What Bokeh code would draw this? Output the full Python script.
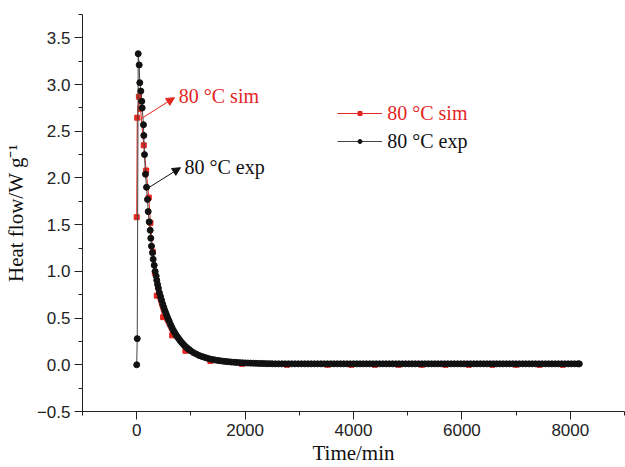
from bokeh.plotting import figure
from bokeh.models import (Range1d, SingleIntervalTicker, CustomJSTickFormatter,
                          Arrow, NormalHead, Legend, LegendItem, Label)
from bokeh.embed import file_html
from bokeh.resources import INLINE

RED = "#e3261f"
BLACK = "#111111"

# ---- simulated (red squares) ----
sim_time = [0, 10, 40, 70, 130, 175, 223, 254, 297, 334, 370, 488, 654, 899,
            1360, 1944, 2774, 3522, 3959, 4396, 4832, 5262, 5697, 6128, 6564,
            7000, 7429, 7860]
sim_flow = [1.58, 2.645, 2.87, 2.74, 2.35, 2.08, 1.79, 1.52, 1.21, 0.985, 0.74,
            0.51, 0.315, 0.15, 0.04, 0.01, 0.0, 0.0, 0.0, 0.0, 0.0, 0.0, 0.0,
            0.0, 0.0, 0.0, 0.0, 0.0]

# ---- experimental (black circles) ----
exp_time_head = [0, 10, 28, 46, 57, 76, 94, 101, 125, 131, 144, 162, 181, 199,
                 212, 230, 249, 260, 273, 291, 304, 323, 341, 359, 370, 385, 400,
                 420, 440, 460, 480, 500, 520, 540, 560, 580, 600,
                 625, 650, 675, 700, 725, 750, 775, 800, 825, 850, 875, 900,
                 925, 950, 975, 1000,
                 1050, 1100, 1150, 1200, 1250, 1300, 1350, 1400, 1450, 1500,
                 1550, 1600, 1650, 1700, 1750, 1800, 1850, 1900, 1950, 2000,
                 2050, 2100, 2150, 2200, 2250, 2300, 2350, 2400, 2450, 2500]
exp_flow_head = [0.0, 0.28, 3.33, 3.21, 3.02, 2.93, 2.82, 2.75, 2.57, 2.455,
                 2.25, 2.04, 1.90, 1.77, 1.64, 1.53, 1.44, 1.355, 1.27, 1.20,
                 1.13, 1.065, 1.00, 0.95, 0.905, 0.86, 0.82,
                 0.77, 0.73, 0.69, 0.65, 0.615, 0.58, 0.55, 0.52, 0.49, 0.465,
                 0.43, 0.40, 0.37, 0.345, 0.32, 0.30, 0.28, 0.26, 0.242, 0.225,
                 0.21, 0.195, 0.182, 0.17, 0.159, 0.148,
                 0.13, 0.115, 0.10, 0.09, 0.08, 0.071, 0.063, 0.057, 0.051, 0.046,
                 0.042, 0.038, 0.035, 0.032, 0.029, 0.027, 0.025, 0.023, 0.021, 0.02,
                 0.019, 0.018, 0.017, 0.016, 0.015, 0.014, 0.013, 0.012, 0.012, 0.011]
exp_time_tail = [2560, 2620, 2680, 2740, 2800, 2860, 2920, 2980, 3040, 3100,
                 3160, 3220, 3280, 3340, 3400, 3460, 3520, 3580, 3640, 3700,
                 3760, 3820, 3880, 3940, 4000, 4060, 4120, 4180, 4240, 4300,
                 4360, 4420, 4480, 4540, 4600, 4660, 4720, 4780, 4840, 4900,
                 4960, 5020, 5080, 5140, 5200, 5260, 5320, 5380, 5440, 5500,
                 5560, 5620, 5680, 5740, 5800, 5860, 5920, 5980, 6040, 6100,
                 6160, 6220, 6280, 6340, 6400, 6460, 6520, 6580, 6640, 6700,
                 6760, 6820, 6880, 6940, 7000, 7060, 7120, 7180, 7240, 7300,
                 7360, 7420, 7480, 7540, 7600, 7660, 7720, 7780, 7840, 7900,
                 7960, 8020, 8080, 8140, 8166]
exp_flow_tail = [0.01, 0.01, 0.01, 0.01, 0.01, 0.01, 0.01, 0.01, 0.01, 0.01,
                 0.01, 0.01, 0.01, 0.01, 0.01, 0.01, 0.01, 0.01, 0.01, 0.01,
                 0.01, 0.01, 0.01, 0.01, 0.01, 0.01, 0.01, 0.01, 0.01, 0.01,
                 0.01, 0.01, 0.01, 0.01, 0.01, 0.01, 0.01, 0.01, 0.01, 0.01,
                 0.01, 0.01, 0.01, 0.01, 0.01, 0.01, 0.01, 0.01, 0.01, 0.01,
                 0.01, 0.01, 0.01, 0.01, 0.01, 0.01, 0.01, 0.01, 0.01, 0.01,
                 0.01, 0.01, 0.01, 0.01, 0.01, 0.01, 0.01, 0.01, 0.01, 0.01,
                 0.01, 0.01, 0.01, 0.01, 0.01, 0.01, 0.01, 0.01, 0.01, 0.01,
                 0.01, 0.01, 0.01, 0.01, 0.01, 0.01, 0.01, 0.01, 0.01, 0.01,
                 0.01, 0.01, 0.01, 0.01, 0.01]

exp_time = exp_time_head + exp_time_tail
exp_flow = exp_flow_head + exp_flow_tail
n = min(len(exp_time), len(exp_flow))
exp_time, exp_flow = exp_time[:n], exp_flow[:n]

sim_label = "80 °C sim"
exp_label = "80 °C exp"

p = figure(width=625, height=467, output_backend="svg", toolbar_location=None,
           x_range=Range1d(-1000, 9000), y_range=Range1d(-0.5, 3.75),
           min_border_left=82, min_border_right=1, min_border_top=14,
           min_border_bottom=56)
p.xgrid.visible = False
p.ygrid.visible = False
p.outline_line_color = None
p.background_fill_color = "white"
p.border_fill_color = "white"

for ax in (p.xaxis[0], p.yaxis[0]):
    ax.major_tick_in = 0
    ax.major_tick_out = 8
    ax.minor_tick_in = 0
    ax.minor_tick_out = 4
    ax.axis_line_color = "#222222"
    ax.major_tick_line_color = "#222222"
    ax.minor_tick_line_color = "#222222"
    ax.major_label_text_font = "Liberation Sans"
    ax.major_label_text_font_size = "17px"
    ax.major_label_text_color = "#222222"
    ax.axis_label_text_font = "Liberation Serif"
    ax.axis_label_text_font_style = "normal"
    ax.axis_label_text_font_size = "21px"
    ax.axis_label_text_color = "#111111"

p.xaxis.ticker = SingleIntervalTicker(interval=2000, num_minor_ticks=2)
p.yaxis.ticker = SingleIntervalTicker(interval=0.5, num_minor_ticks=2)
p.yaxis.formatter = CustomJSTickFormatter(
    code="return (tick < -1e-9 ? '\u2212' : '') + Math.abs(tick).toFixed(1);")
p.xaxis.major_label_standoff = 4
p.yaxis.major_label_standoff = 4
p.xaxis.axis_label_standoff = 2
p.yaxis.axis_label_standoff = 6
p.xaxis.axis_label = "Time/min"
p.yaxis.axis_label = "Heat flow/W g\u207b\u00b9"

# series
sim_line = p.line(sim_time, sim_flow, line_color=RED, line_width=1)
sim_pts = p.scatter(sim_time, sim_flow, marker="square", size=5,
                    fill_color=RED, line_color=RED)
exp_line = p.line(exp_time, exp_flow, line_color="#444444", line_width=1)
exp_pts = p.scatter(exp_time, exp_flow, marker="circle", size=6,
                    fill_color=BLACK, line_color=BLACK)

# annotations (arrows + labels)
p.add_layout(Arrow(end=NormalHead(size=8, fill_color=RED, line_color=RED),
                   x_start=70, y_start=2.63, x_end=697, y_end=2.86,
                   line_color=RED, line_width=1))
p.add_layout(Label(x=776, y=2.875, text=sim_label, text_font="Liberation Serif",
                   text_font_size="20px", text_color=RED, text_baseline="middle"))
p.add_layout(Arrow(end=NormalHead(size=8, fill_color=BLACK, line_color=BLACK),
                   x_start=205, y_start=1.89, x_end=807, y_end=2.11,
                   line_color=BLACK, line_width=1))
p.add_layout(Label(x=881, y=2.114, text=exp_label, text_font="Liberation Serif",
                   text_font_size="20px", text_color=BLACK, text_baseline="middle"))

# legend: glyph boxes via Legend, texts via Label
def make_legend_glyph(rends, loc):
    lg = Legend(items=[LegendItem(label=" ", renderers=rends)], location=loc,
                orientation="vertical", padding=0, margin=0, spacing=0,
                glyph_width=45, glyph_height=10, label_standoff=0,
                label_text_font_size="6px", label_height=10, label_width=1,
                border_line_color=None, background_fill_alpha=0)
    p.add_layout(lg, "center")

make_legend_glyph([sim_line, sim_pts], (255, 293))
make_legend_glyph([exp_line, exp_pts], (255, 265))
p.add_layout(Label(x=4622, y=2.695, text=sim_label, text_font="Liberation Serif",
                   text_font_size="20px", text_color=RED, text_baseline="middle"))
p.add_layout(Label(x=4622, y=2.394, text=exp_label, text_font="Liberation Serif",
                   text_font_size="20px", text_color=BLACK, text_baseline="middle"))

open("out.html", "w").write(file_html(p, INLINE))
